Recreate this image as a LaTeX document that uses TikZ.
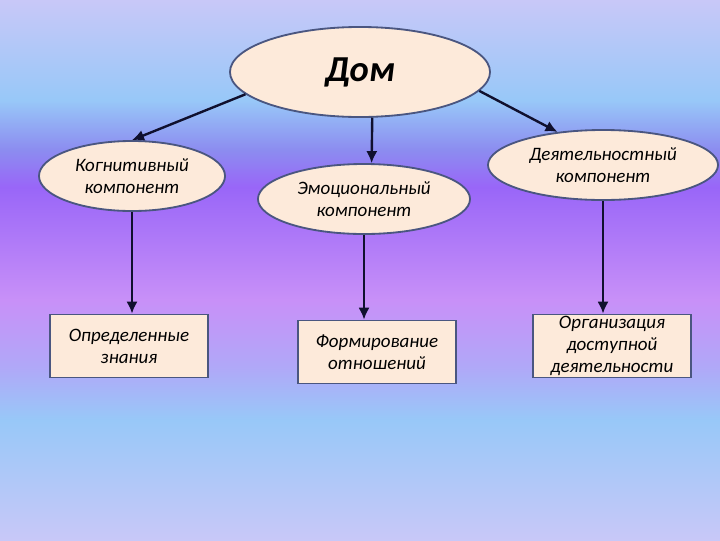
\documentclass[tikz,border=0pt]{standalone}
\usepackage{fontspec}
\setmainfont{Carlito}
\usepackage{xcolor}
\usepackage{tikz}
\usetikzlibrary{arrows.meta, shapes.geometric}

\definecolor{bgLav}{HTML}{C8C8F8}
\definecolor{bgSky}{HTML}{98C8F8}
\definecolor{bgBlueViolet}{HTML}{8C8CF0}
\definecolor{bgPurple}{HTML}{9966F8}
\definecolor{bgPink}{HTML}{C890F8}
\definecolor{bgLilac}{HTML}{B0A8F8}
\definecolor{peach}{HTML}{FDEADA}
\definecolor{rimBlue}{HTML}{4A5680}
\definecolor{arrowInk}{HTML}{10102E}

\begin{document}
\begin{tikzpicture}[
    x=0.025cm, y=-0.025cm,
    >=Latex,
    every node/.style={font=\itshape\fontsize{13.5}{15.5}\selectfont, text=black},
    oval/.style={
        ellipse, draw=rimBlue, line width=1.3pt,
        fill=peach, inner sep=0pt,
        minimum height=1.75cm,
        align=center
    },
    topoval/.style={
        oval, minimum width=6.5cm, minimum height=2.25cm,
        font=\bfseries\itshape\fontsize{26}{30}\selectfont
    },
    card/.style={
        rectangle, draw=rimBlue, line width=1.2pt,
        fill=peach, inner sep=0pt,
        minimum width=3.95cm, minimum height=1.575cm,
        align=center
    },
    arrow/.style={-{Latex[length=3mm,width=2.8mm]}, line width=1.7pt, draw=arrowInk},
]

% ---------- Background ----------
\shade[top color=bgLav, bottom color=bgSky] (0,0) rectangle (720,100);
\shade[top color=bgSky, bottom color=bgBlueViolet] (0,100) rectangle (720,150);
\shade[top color=bgBlueViolet, bottom color=bgPurple] (0,150) rectangle (720,187);
\shade[top color=bgPurple, bottom color=bgPink] (0,187) rectangle (720,300);
\shade[top color=bgPink, bottom color=bgLilac] (0,300) rectangle (720,367);
\shade[top color=bgLilac, bottom color=bgSky] (0,367) rectangle (720,420);
\shade[top color=bgSky, bottom color=bgLav] (0,420) rectangle (720,540);
\useasboundingbox (0,0) rectangle (720,540);

% ---------- Root ----------
\node[topoval] (home) at (360,72) {Дом};

% ---------- Components ----------
\node[oval, minimum width=4.65cm] (cog) at (132,176) {Когнитивный\\компонент};
\node[oval, minimum width=5.3cm] (emo) at (364,199) {Эмоциональный\\компонент};
\node[oval, minimum width=5.75cm] (act) at (603,165) {Деятельностный\\компонент};

% ---------- Results ----------
\node[card] (know) at (129,346) {Определенные\\знания};
\node[card] (attit) at (377,352) {Формирование\\отношений};
\node[card] (org) at (612,346) {Организация\\доступной\\деятельности};

% ---------- Arrows ----------
\draw[arrow] (home.191) -- (cog.north);
\draw[arrow] (home.285) -- (emo.78);
\draw[arrow] (home.351) -- (act.144);

\draw[arrow] (cog.south) -- (cog.south |- know.north);
\draw[arrow] (emo.south) -- (emo.south |- attit.north);
\draw[arrow] (act.south) -- (act.south |- org.north);

\end{tikzpicture}
\end{document}
